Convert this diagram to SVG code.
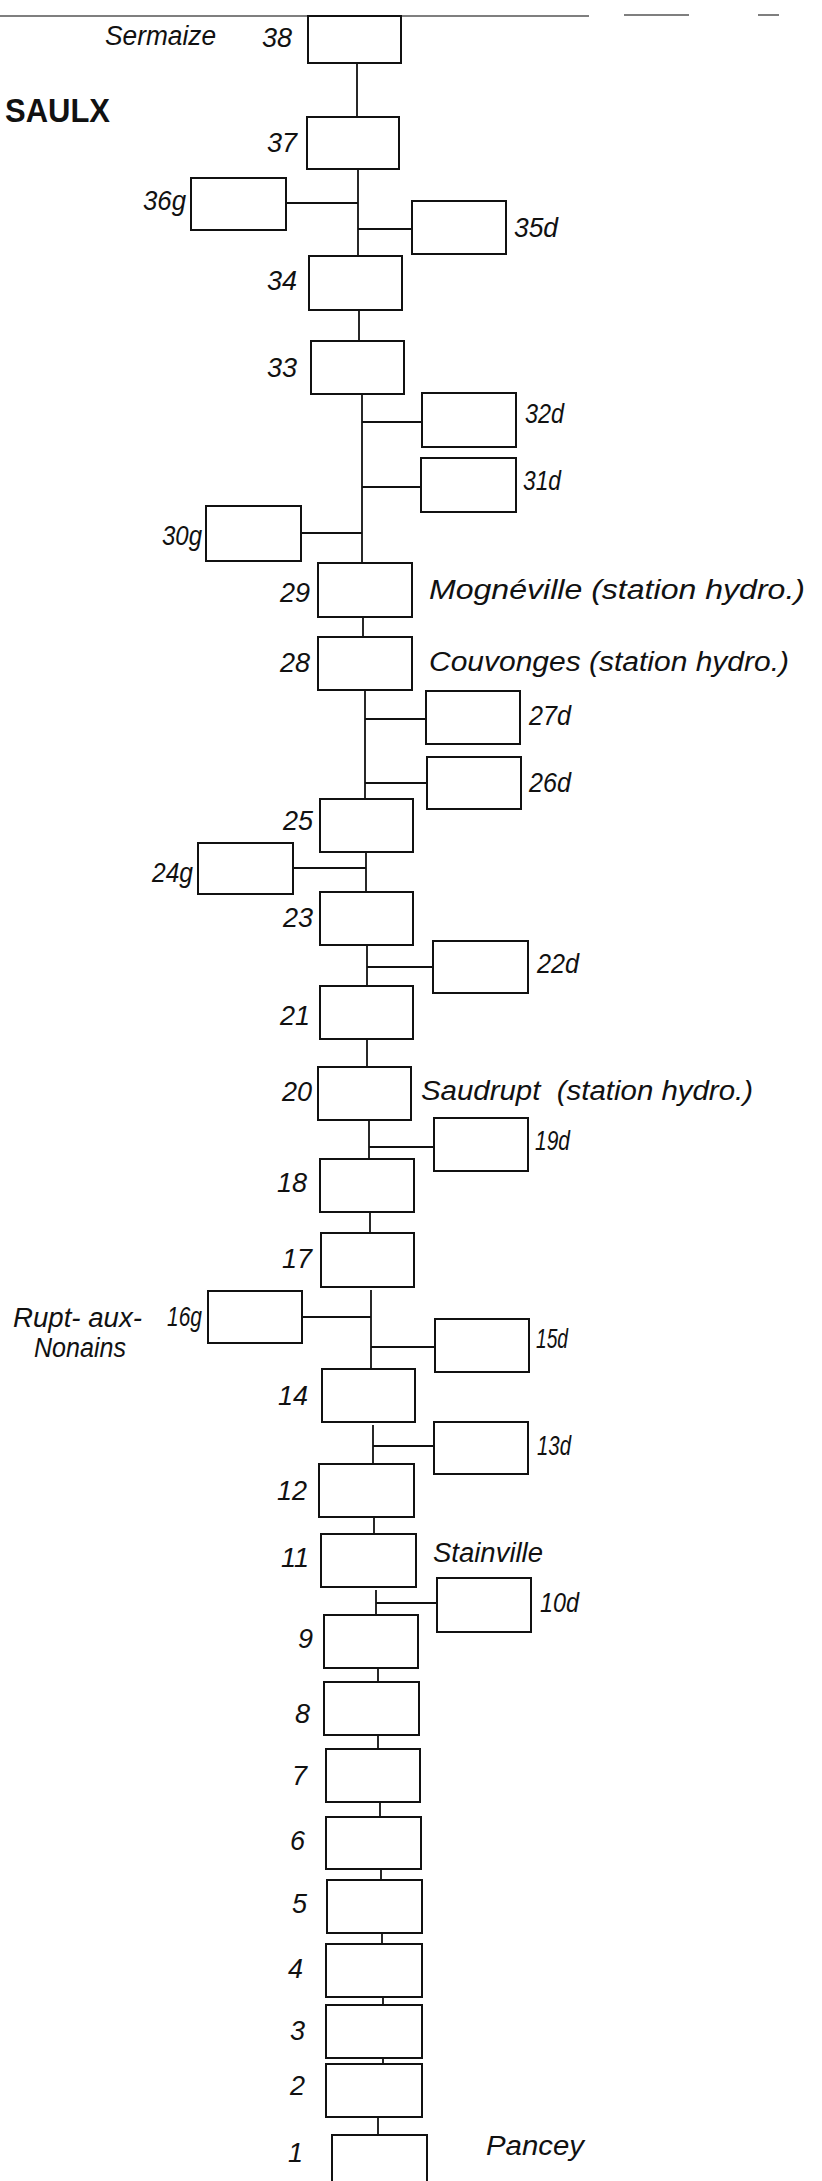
<svg xmlns="http://www.w3.org/2000/svg" width="822" height="2181" viewBox="0 0 822 2181">
<style>
.box{fill:#fff;stroke:#111;stroke-width:2}
.ln{stroke:#111;stroke-width:1.8;fill:none}
.num{font-family:"Liberation Sans",Arial,sans-serif;font-style:italic;font-size:27px;fill:#111;text-anchor:end}
.rnum{font-family:"Liberation Sans",Arial,sans-serif;font-style:italic;font-size:27px;fill:#111}
.place{font-family:"Liberation Sans",Arial,sans-serif;font-style:italic;font-size:27px;fill:#111}
.title{font-family:"Liberation Sans",Arial,sans-serif;font-weight:bold;font-size:34px;fill:#111}
</style>
<rect width="822" height="2181" fill="#fff"/>
<g id="topline" stroke="#555" stroke-width="1.5">
<line x1="0" y1="16" x2="589" y2="16"/>
<line x1="624" y1="15" x2="689" y2="15"/>
<line x1="758" y1="15" x2="779" y2="15"/>
</g>
<text class="title" x="5" y="122" textLength="105" lengthAdjust="spacingAndGlyphs">SAULX</text>
<g id="connectors">
<line class="ln" x1="357" y1="63" x2="357" y2="117"/>
<line class="ln" x1="358" y1="169" x2="358" y2="256"/>
<line class="ln" x1="286" y1="203" x2="358" y2="203"/>
<line class="ln" x1="358" y1="229" x2="412" y2="229"/>
<line class="ln" x1="359" y1="310" x2="359" y2="341"/>
<line class="ln" x1="362" y1="394" x2="362" y2="563"/>
<line class="ln" x1="362" y1="422" x2="422" y2="422"/>
<line class="ln" x1="362" y1="487" x2="421" y2="487"/>
<line class="ln" x1="301" y1="533" x2="362" y2="533"/>
<line class="ln" x1="363" y1="617" x2="363" y2="637"/>
<line class="ln" x1="365" y1="690" x2="365" y2="799"/>
<line class="ln" x1="365" y1="719" x2="426" y2="719"/>
<line class="ln" x1="365" y1="783" x2="427" y2="783"/>
<line class="ln" x1="366" y1="852" x2="366" y2="892"/>
<line class="ln" x1="293" y1="868" x2="366" y2="868"/>
<line class="ln" x1="367" y1="945" x2="367" y2="986"/>
<line class="ln" x1="367" y1="967" x2="433" y2="967"/>
<line class="ln" x1="367" y1="1039" x2="367" y2="1067"/>
<line class="ln" x1="369" y1="1120" x2="369" y2="1159"/>
<line class="ln" x1="369" y1="1147" x2="434" y2="1147"/>
<line class="ln" x1="370" y1="1212" x2="370" y2="1233"/>
<line class="ln" x1="371" y1="1290" x2="371" y2="1369"/>
<line class="ln" x1="302" y1="1317" x2="371" y2="1317"/>
<line class="ln" x1="371" y1="1347" x2="435" y2="1347"/>
<line class="ln" x1="373" y1="1425" x2="373" y2="1464"/>
<line class="ln" x1="373" y1="1446" x2="434" y2="1446"/>
<line class="ln" x1="374" y1="1517" x2="374" y2="1534"/>
<line class="ln" x1="376" y1="1590" x2="376" y2="1615"/>
<line class="ln" x1="376" y1="1603" x2="437" y2="1603"/>
<line class="ln" x1="378" y1="1668" x2="378" y2="1682"/>
<line class="ln" x1="378" y1="1735" x2="378" y2="1749"/>
<line class="ln" x1="380" y1="1802" x2="380" y2="1817"/>
<line class="ln" x1="381" y1="1869" x2="381" y2="1880"/>
<line class="ln" x1="382" y1="1933" x2="382" y2="1944"/>
<line class="ln" x1="383" y1="1997" x2="383" y2="2005"/>
<line class="ln" x1="383" y1="2058" x2="383" y2="2064"/>
<line class="ln" x1="378" y1="2117" x2="378" y2="2135"/>
</g>
<g id="n38"><rect class="box" x="308" y="16" width="93" height="47"/><text class="num" x="292" y="47">38</text><text class="place" x="105" y="45" textLength="111" lengthAdjust="spacingAndGlyphs">Sermaize</text></g>
<g id="n37"><rect class="box" x="307" y="117" width="92" height="52"/><text class="num" x="297" y="152">37</text></g>
<g id="n36g"><rect class="box" x="191" y="178" width="95" height="52"/><text class="num" x="186" y="210" textLength="43" lengthAdjust="spacingAndGlyphs">36g</text></g>
<g id="n35d"><rect class="box" x="412" y="201" width="94" height="53"/><text class="rnum" x="514" y="237" textLength="44" lengthAdjust="spacingAndGlyphs">35d</text></g>
<g id="n34"><rect class="box" x="309" y="256" width="93" height="54"/><text class="num" x="297" y="290">34</text></g>
<g id="n33"><rect class="box" x="311" y="341" width="93" height="53"/><text class="num" x="297" y="377">33</text></g>
<g id="n32d"><rect class="box" x="422" y="393" width="94" height="54"/><text class="rnum" x="525" y="423" textLength="39" lengthAdjust="spacingAndGlyphs">32d</text></g>
<g id="n31d"><rect class="box" x="421" y="458" width="95" height="54"/><text class="rnum" x="523" y="490" textLength="38" lengthAdjust="spacingAndGlyphs">31d</text></g>
<g id="n30g"><rect class="box" x="206" y="506" width="95" height="55"/><text class="num" x="202" y="545" textLength="40" lengthAdjust="spacingAndGlyphs">30g</text></g>
<g id="n29"><rect class="box" x="318" y="563" width="94" height="54"/><text class="num" x="310" y="602">29</text><text class="place" x="429" y="599" textLength="376" lengthAdjust="spacingAndGlyphs">Mognéville (station hydro.)</text></g>
<g id="n28"><rect class="box" x="318" y="637" width="94" height="53"/><text class="num" x="310" y="672">28</text><text class="place" x="429" y="671" textLength="360" lengthAdjust="spacingAndGlyphs">Couvonges (station hydro.)</text></g>
<g id="n27d"><rect class="box" x="426" y="691" width="94" height="53"/><text class="rnum" x="529" y="725" textLength="42" lengthAdjust="spacingAndGlyphs">27d</text></g>
<g id="n26d"><rect class="box" x="427" y="757" width="94" height="52"/><text class="rnum" x="529" y="792" textLength="42" lengthAdjust="spacingAndGlyphs">26d</text></g>
<g id="n25"><rect class="box" x="320" y="799" width="93" height="53"/><text class="num" x="313" y="830">25</text></g>
<g id="n24g"><rect class="box" x="198" y="843" width="95" height="51"/><text class="num" x="193" y="882" textLength="41" lengthAdjust="spacingAndGlyphs">24g</text></g>
<g id="n23"><rect class="box" x="320" y="892" width="93" height="53"/><text class="num" x="313" y="927">23</text></g>
<g id="n22d"><rect class="box" x="433" y="941" width="95" height="52"/><text class="rnum" x="537" y="973" textLength="42" lengthAdjust="spacingAndGlyphs">22d</text></g>
<g id="n21"><rect class="box" x="320" y="986" width="93" height="53"/><text class="num" x="310" y="1025">21</text></g>
<g id="n20"><rect class="box" x="318" y="1067" width="93" height="53"/><text class="num" x="312" y="1101">20</text><text class="place" x="421" y="1100" textLength="332" lengthAdjust="spacingAndGlyphs" xml:space="preserve">Saudrupt  (station hydro.)</text></g>
<g id="n19d"><rect class="box" x="434" y="1118" width="94" height="53"/><text class="rnum" x="535" y="1150" textLength="35" lengthAdjust="spacingAndGlyphs">19d</text></g>
<g id="n18"><rect class="box" x="320" y="1159" width="94" height="53"/><text class="num" x="307" y="1192">18</text></g>
<g id="n17"><rect class="box" x="321" y="1233" width="93" height="54"/><text class="num" x="312" y="1268">17</text></g>
<g id="n16g"><rect class="box" x="208" y="1291" width="94" height="52"/><text class="num" x="202" y="1326" textLength="35" lengthAdjust="spacingAndGlyphs">16g</text><text class="place" x="13" y="1327" textLength="129" lengthAdjust="spacingAndGlyphs">Rupt- aux-</text><text class="place" x="34" y="1357" textLength="92" lengthAdjust="spacingAndGlyphs">Nonains</text></g>
<g id="n15d"><rect class="box" x="435" y="1319" width="94" height="53"/><text class="rnum" x="536" y="1348" textLength="32" lengthAdjust="spacingAndGlyphs">15d</text></g>
<g id="n14"><rect class="box" x="322" y="1369" width="93" height="53"/><text class="num" x="308" y="1405">14</text></g>
<g id="n13d"><rect class="box" x="434" y="1422" width="94" height="52"/><text class="rnum" x="537" y="1455" textLength="34" lengthAdjust="spacingAndGlyphs">13d</text></g>
<g id="n12"><rect class="box" x="319" y="1464" width="95" height="53"/><text class="num" x="307" y="1500">12</text></g>
<g id="n11"><rect class="box" x="321" y="1534" width="95" height="53"/><text class="num" x="309" y="1567">11</text><text class="place" x="433" y="1562" textLength="110" lengthAdjust="spacingAndGlyphs">Stainville</text></g>
<g id="n10d"><rect class="box" x="437" y="1578" width="94" height="54"/><text class="rnum" x="540" y="1612" textLength="39" lengthAdjust="spacingAndGlyphs">10d</text></g>
<g id="n9"><rect class="box" x="324" y="1615" width="94" height="53"/><text class="num" x="313" y="1648">9</text></g>
<g id="n8"><rect class="box" x="324" y="1682" width="95" height="53"/><text class="num" x="310" y="1723">8</text></g>
<g id="n7"><rect class="box" x="326" y="1749" width="94" height="53"/><text class="num" x="307" y="1785">7</text></g>
<g id="n6"><rect class="box" x="326" y="1817" width="95" height="52"/><text class="num" x="305" y="1850">6</text></g>
<g id="n5"><rect class="box" x="327" y="1880" width="95" height="53"/><text class="num" x="307" y="1913">5</text></g>
<g id="n4"><rect class="box" x="326" y="1944" width="96" height="53"/><text class="num" x="303" y="1978">4</text></g>
<g id="n3"><rect class="box" x="326" y="2005" width="96" height="53"/><text class="num" x="305" y="2040">3</text></g>
<g id="n2"><rect class="box" x="326" y="2064" width="96" height="53"/><text class="num" x="305" y="2095">2</text></g>
<g id="n1"><rect class="box" x="332" y="2135" width="95" height="60"/><text class="num" x="303" y="2162">1</text><text class="place" x="486" y="2155" textLength="98" lengthAdjust="spacingAndGlyphs">Pancey</text></g>
</svg>
